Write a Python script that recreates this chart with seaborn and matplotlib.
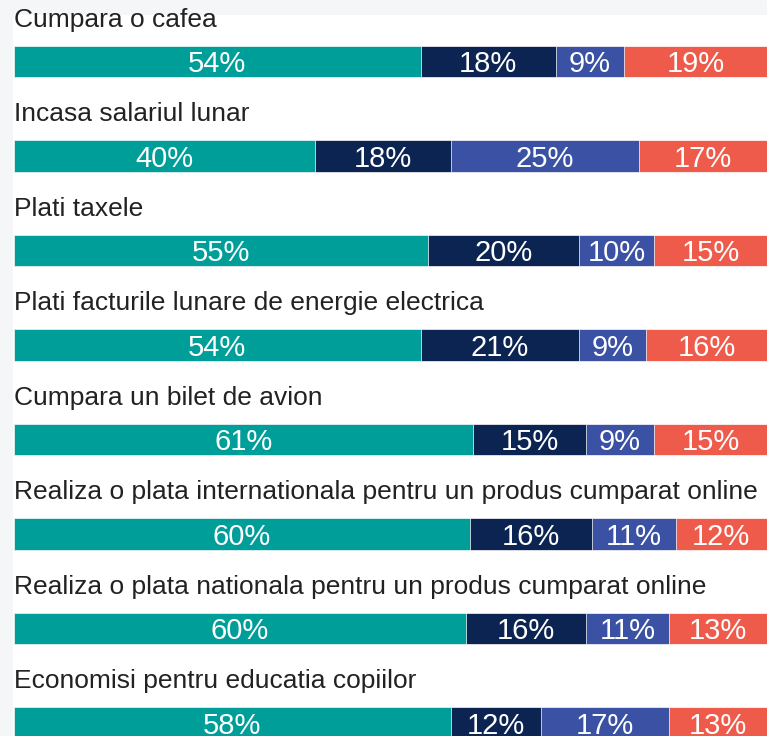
import numpy as np
import pandas as pd
import matplotlib.pyplot as plt
import seaborn as sns

# date (%)
categorii = [
    'Cumpara o cafea',
    'Incasa salariul lunar',
    'Plati taxele',
    'Plati facturile lunare de energie electrica',
    'Cumpara un bilet de avion',
    'Realiza o plata internationala pentru un produs cumparat online',
    'Realiza o plata nationala pentru un produs cumparat online',
    'Economisi pentru educatia copiilor',
]
serie1 = [54, 40, 55, 54, 61, 60, 60, 58]
serie2 = [18, 18, 20, 21, 15, 16, 16, 12]
serie3 = [9, 25, 10, 9, 9, 11, 11, 17]
serie4 = [19, 17, 15, 16, 15, 12, 13, 13]
culori = ['#009E99', '#0B2452', '#3A51A4', '#EF5B4B']

sns.set_theme(style='white')
plt.rcParams['font.family'] = ['Liberation Sans', 'DejaVu Sans']

data = pd.DataFrame({'cat': categorii, 's1': serie1, 's2': serie2, 's3': serie3, 's4': serie4})
serii = ['s1', 's2', 's3', 's4']
total = data[serii].sum(axis=1)
procente = data[serii].div(total, axis=0) * 100
cumul = procente.cumsum(axis=1)

fig = plt.figure(figsize=(7.67, 7.36), dpi=100, facecolor='#F5F6F8')
ax = fig.add_axes([13 / 767, 0, 754 / 767, 721 / 736])
ax.set_facecolor('white')

# bare suprapuse: de la totalul cumulat spre prima serie
for k in reversed(range(4)):
    sns.barplot(x=cumul[serii[k]], y=data['cat'], color=culori[k], saturation=1,
                width=0.33, orient='h', ax=ax, edgecolor='white', linewidth=0.5)

for i in range(len(categorii)):
    stanga = 0
    for k, s in enumerate(serii):
        v = procente.loc[i, s]
        ax.text(stanga + v / 2, i + 0.03, f'{data.loc[i, s]}%', color='white',
                fontsize=21, ha='center', va='center')
        stanga += v
    ax.text(0.05, i - 0.444, categorii[i], color='#222222', fontsize=19,
            ha='left', va='center')

ax.set_xlim(-0.1, 100)
ax.set_ylim(7.138, -0.492)
ax.set(xticks=[], yticks=[], xlabel='', ylabel='')
sns.despine(ax=ax, left=True, bottom=True)

fig.savefig('out.png', dpi=100, facecolor=fig.get_facecolor())
